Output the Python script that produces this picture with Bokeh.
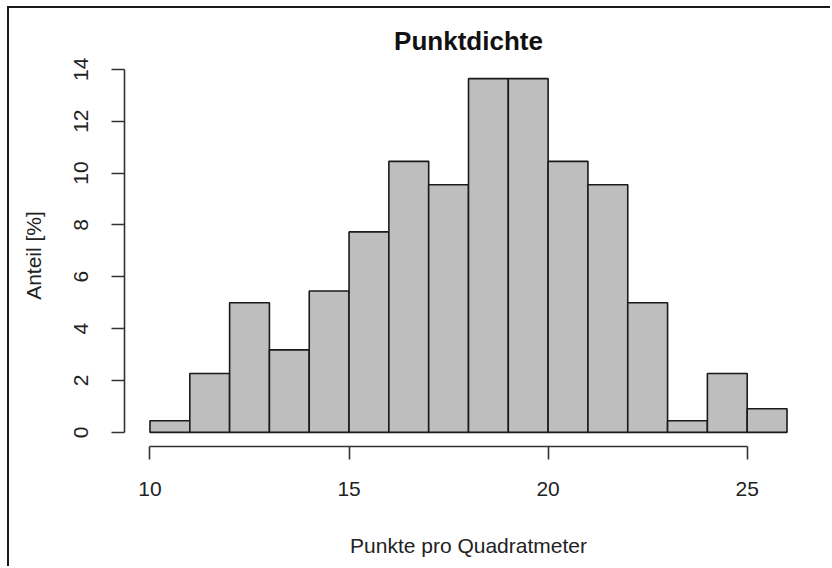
from bokeh.plotting import figure
from bokeh.models import Range1d, FixedTicker
from bokeh.embed import file_html
from bokeh.resources import INLINE

# Histogram data (percent of points per bin)
bin_edges = [10, 11, 12, 13, 14, 15, 16, 17, 18, 19, 20, 21, 22, 23, 24, 25, 26]
shares = [0.45, 2.27, 5.00, 3.18, 5.45, 7.73, 10.45, 9.55,
          13.64, 13.64, 10.45, 9.55, 5.00, 0.45, 2.27, 0.91]
x_ticks = [10, 15, 20, 25]
y_ticks = [0, 2, 4, 6, 8, 10, 12, 14]

title_text = "Punktdichte"
x_label = "Punkte pro Quadratmeter"
y_label = "Anteil [%]"

FONT = "Liberation Sans"

# R-style 4% range extension
xmin, xmax = bin_edges[0], bin_edges[-1]
ymin, ymax = 0, max(shares)
dx = (xmax - xmin) * 0.04
dy = (ymax - ymin) * 0.04

p = figure(
    width=823, height=560,
    output_backend="svg", toolbar_location=None,
    x_range=Range1d(xmin - dx, xmax + dx),
    y_range=Range1d(ymin - dy, ymax + dy),
    min_border_left=115, min_border_right=20,
    min_border_top=56, min_border_bottom=122,
    margin=(6, 0, 0, 7),
)
p.styles = {"border-top": "2px solid #1a1a1a", "border-left": "2px solid #1a1a1a"}

p.outline_line_color = None
p.xgrid.visible = False
p.ygrid.visible = False
p.background_fill_color = "white"
p.border_fill_color = "white"

p.quad(left=bin_edges[:-1], right=bin_edges[1:], bottom=0, top=shares,
       fill_color="#bebebe", line_color="#1a1a1a", line_width=1.6)

p.title.text = title_text
p.title.align = "center"
p.title.text_font = FONT
p.title.text_font_size = "26px"
p.title.text_font_style = "bold"
p.title.text_color = "#111111"
p.title.standoff = 18

for ax, ticks, label in ((p.xaxis[0], x_ticks, x_label), (p.yaxis[0], y_ticks, y_label)):
    ax.ticker = FixedTicker(ticks=ticks)
    ax.bounds = (ticks[0], ticks[-1])
    ax.axis_label = label
    ax.axis_label_text_font = FONT
    ax.axis_label_text_font_size = "21px"
    ax.axis_label_text_font_style = "normal"
    ax.axis_label_text_color = "#222222"
    ax.major_label_text_font = FONT
    ax.major_label_text_font_size = "21px"
    ax.major_label_text_color = "#222222"
    ax.axis_line_color = "#333333"
    ax.axis_line_width = 1.6
    ax.major_tick_line_color = "#333333"
    ax.major_tick_line_width = 1.6
    ax.major_tick_out = 13
    ax.major_tick_in = 0
    ax.minor_tick_out = 0
    ax.minor_tick_in = 0

p.xaxis.major_label_standoff = 22
p.xaxis.axis_label_standoff = 35
p.yaxis.major_label_orientation = "vertical"
p.yaxis.major_label_standoff = 23
p.yaxis.axis_label_standoff = 27

open("out.html", "w").write(file_html(p, INLINE))
